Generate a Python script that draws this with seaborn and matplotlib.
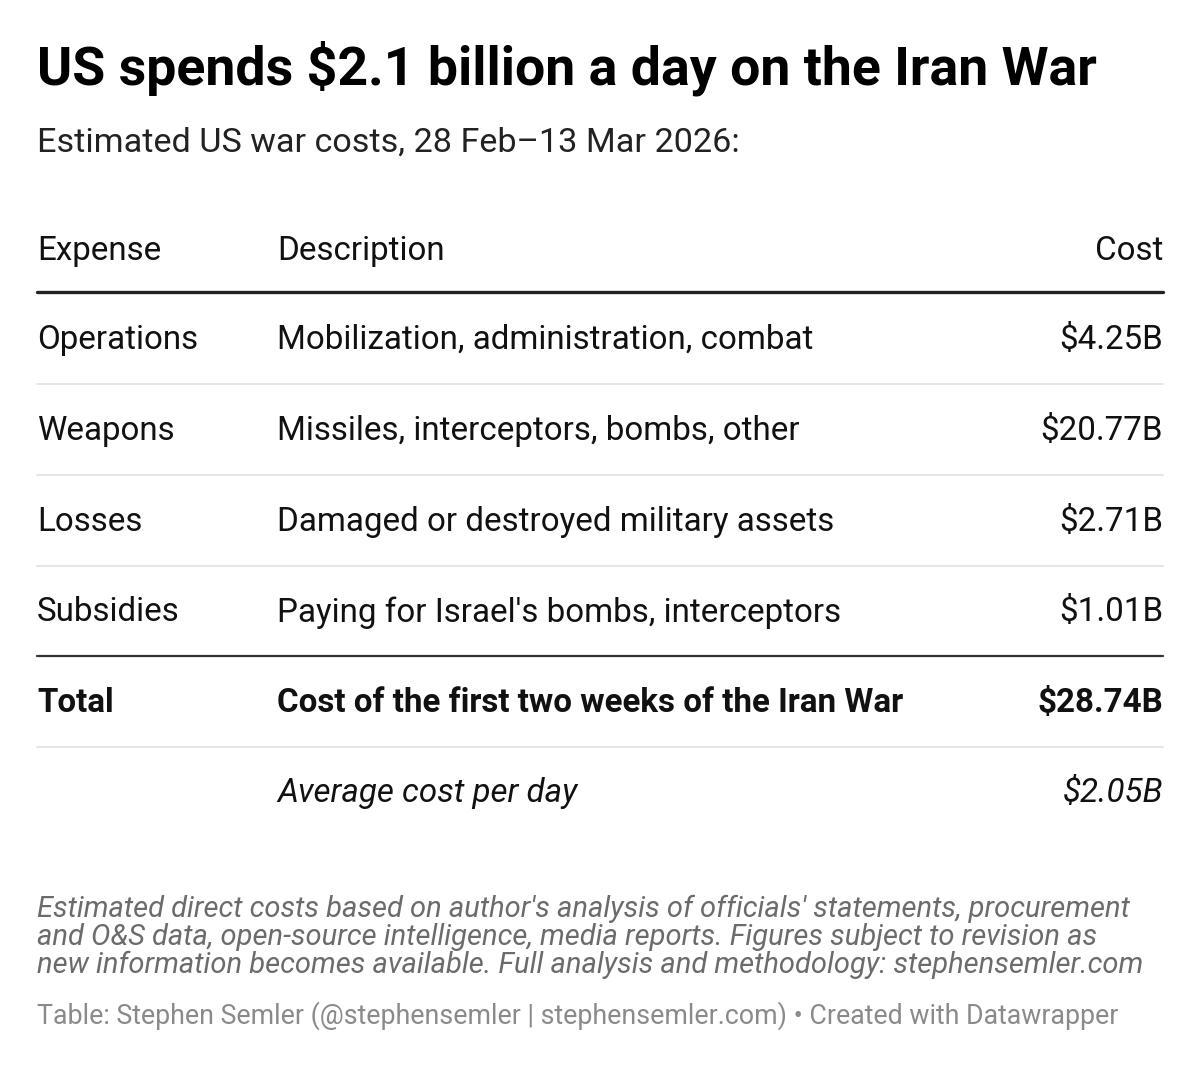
import matplotlib
matplotlib.use("Agg")
import matplotlib.pyplot as plt
import seaborn as sns

sns.set_theme(style="white", rc={"font.family": "Roboto"})

title = "US spends $2.1 billion a day on the Iran War"
subtitle = "Estimated US war costs, 28 Feb\u201313 Mar 2026:"
headers = ["Expense", "Description", "Cost"]
expenses = ["Operations", "Weapons", "Losses", "Subsidies"]
descriptions = ["Mobilization, administration, combat",
                "Missiles, interceptors, bombs, other",
                "Damaged or destroyed military assets",
                "Paying for Israel's bombs, interceptors"]
costs = ["$4.25B", "$20.77B", "$2.71B", "$1.01B"]
total_label = "Total"
total_desc = "Cost of the first two weeks of the Iran War"
total_cost = "$28.74B"
avg_desc = "Average cost per day"
avg_cost = "$2.05B"
notes = ("Estimated direct costs based on author's analysis of officials' statements, procurement\n"
         "and O&S data, open-source intelligence, media reports. Figures subject to revision as\n"
         "new information becomes available. Full analysis and methodology: stephensemler.com")
source = "Table: Stephen Semler (@stephensemler | stephensemler.com) \u2022 Created with Datawrapper"

fig = plt.figure(figsize=(12, 10.7), dpi=100)
ax = fig.add_axes([0, 0, 1, 1])
ax.set_xlim(0, 1200)
ax.set_ylim(1070, 0)
ax.axis("off")

X0, X1, X2 = 37, 277, 1163
fs = 23.9
dark = "#111111"

ax.text(X0, 68, title, fontsize=38.6, fontweight="bold", va="center", color="#000")
ax.text(X0, 143, subtitle, fontsize=24.6, va="center", color="#222")

ax.text(X0, 251, headers[0], fontsize=fs, va="center", color=dark)
ax.text(X1, 251, headers[1], fontsize=fs, va="center", color=dark)
ax.text(X2, 251, headers[2], fontsize=fs, va="center", ha="right", color=dark)
ax.plot([X0, X2], [292, 292], color="#222", lw=2.4)

row_h = 90.8
y = 340
for i, (e, d, c) in enumerate(zip(expenses, descriptions, costs)):
    ax.text(X0, y, e, fontsize=fs, va="center", color=dark)
    ax.text(X1, y, d, fontsize=fs, va="center", color=dark)
    ax.text(X2, y, c, fontsize=fs, va="center", ha="right", color=dark)
    if i < len(expenses) - 1:
        ax.plot([X0, X2], [y + 44, y + 44], color="#e3e3e3", lw=1.3)
    y += row_h

ax.plot([X0, X2], [656, 656], color="#333", lw=1.6)
ax.text(X0, 703, total_label, fontsize=fs, va="center", fontweight="bold", color=dark)
ax.text(X1, 703, total_desc, fontsize=fs, va="center", fontweight="bold", color=dark)
ax.text(X2, 703, total_cost, fontsize=fs, va="center", ha="right", fontweight="bold", color=dark)
ax.plot([X0, X2], [747, 747], color="#e3e3e3", lw=1.3)
ax.text(X1, 793, avg_desc, fontsize=fs, va="center", style="italic", color=dark)
ax.text(X2, 793, avg_cost, fontsize=fs, va="center", ha="right", style="italic", color=dark)

ax.text(X0, 937, notes, fontsize=21, va="center", style="italic", color="#6b6b6b", linespacing=1.0)
ax.text(X0, 1016, source, fontsize=19.3, va="center", color="#8a8a8a")

fig.savefig("out.png", dpi=100, facecolor="white")
